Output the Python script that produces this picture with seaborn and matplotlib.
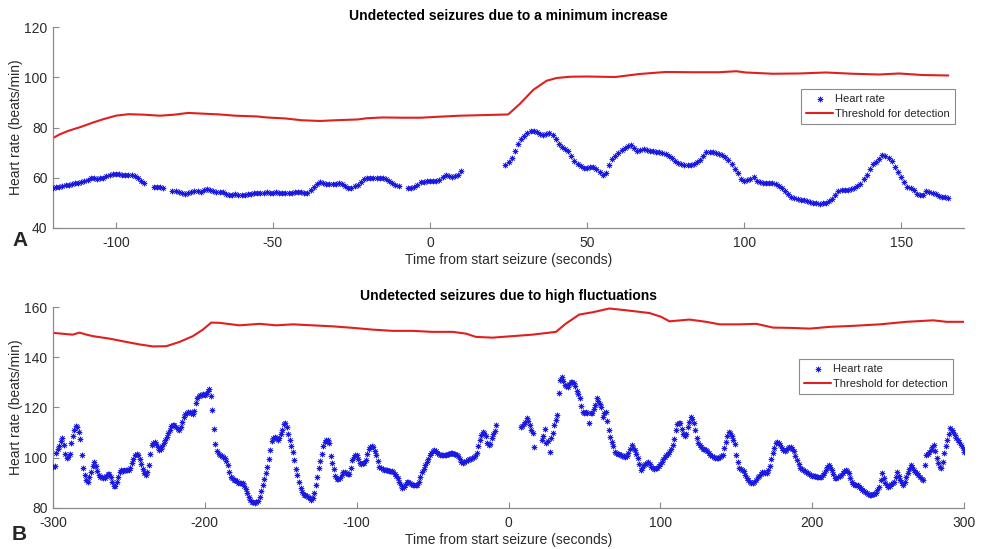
import numpy as np
import pandas as pd
import matplotlib
matplotlib.use("Agg")
import matplotlib.pyplot as plt
import seaborn as sns

# ---------------- Panel A: heart rate (beats/min), one value per second ----------------
# contiguous recording segments and the time (s) of their first sample
hr_a_starts = [-120, -88, -82, -7, 24]
hr_a_seg1 = [56.0, 56.2, 56.5, 56.9, 57.1, 57.3, 57.6, 57.9, 58.0, 58.2,
             58.6, 59.1, 59.8, 60.0, 59.7, 59.8, 60.1, 60.6, 61.0, 61.5,
             61.6, 61.4, 61.2, 61.0, 61.0, 60.9, 60.6, 59.8, 58.9, 57.9]
hr_a_seg2 = [56.4, 56.2, 56.2, 56.0]
hr_a_seg3 = [54.8, 54.6, 54.2, 53.8, 53.7, 53.9, 54.3, 54.8,
             54.6, 54.4, 55.0, 55.4, 55.0, 54.6, 54.3, 54.5, 54.2, 53.6,
             53.2, 53.1, 53.4, 53.2, 53.0, 53.2, 53.5, 53.7, 53.8, 53.9,
             54.0, 54.1, 54.2, 54.0, 53.9, 54.2, 54.0, 53.9, 54.0, 53.8,
             54.1, 54.2, 54.3, 54.2, 54.0, 53.8, 55.2, 56.5, 57.4, 58.3,
             58.0, 57.6, 57.4, 57.5, 57.6, 57.8, 57.6, 56.9, 56.1, 56.0,
             56.6, 57.3, 58.4, 59.4, 59.8, 60.0, 60.1, 59.9, 59.8, 59.8,
             59.5, 58.8, 57.8, 57.3, 56.8]
hr_a_seg4 = [55.8, 55.8, 56.3, 57.2, 58.2, 58.5, 58.6, 58.7,
             58.6, 58.8, 59.3, 60.4, 61.1, 60.5, 60.2, 60.5, 60.9, 62.6]
hr_a_seg5 = [65.2, 66.3, 67.8, 70.6, 73.3, 75.3,
             76.5, 77.9, 78.8, 78.5, 78.2, 77.5, 77.1, 77.6, 77.8, 77.2,
             75.5, 73.6, 72.4, 71.3, 70.6, 68.6, 66.5, 65.6, 64.8, 64.0,
             63.9, 64.2, 64.1, 63.6, 62.3, 61.0, 62.0, 65.2, 67.3, 68.7,
             69.8, 71.0, 71.9, 72.6, 73.2, 71.8, 70.8, 71.2, 71.4, 70.9,
             70.6, 70.5, 70.4, 70.2, 69.9, 69.3, 68.6, 68.0, 66.8, 65.7,
             65.3, 65.0, 64.9, 65.1, 65.6, 66.2, 67.1, 68.5, 70.2, 70.4,
             70.2, 70.0, 69.6, 69.1, 68.2, 66.9, 65.3, 63.6, 61.9, 59.5,
             58.9, 59.1, 59.6, 60.3, 58.9, 58.3, 58.1, 58.0, 57.9, 57.8,
             57.6, 56.8, 55.8, 54.6, 53.4, 52.5, 52.0, 51.5, 51.2, 51.0,
             50.8, 50.5, 50.1, 49.8, 49.7, 49.8, 50.1, 50.7, 51.6, 53.3,
             54.9, 55.2, 55.0, 55.2, 55.6, 56.1, 56.8, 57.7, 59.4, 61.2,
             63.4, 65.3, 66.2, 67.5, 69.0, 68.6, 67.8, 66.5, 64.4, 62.3,
             60.2, 58.3, 56.5, 56.0, 55.2, 53.5, 53.0, 53.3, 54.9, 54.5,
             54.0, 53.6, 52.9, 52.4, 52.2, 52.0]

# detection threshold for panel A
thr_a_time = [-120, -118, -115.3, -111, -107, -104, -100, -96, -91, -86, -81.5,
              -77, -72, -67, -62, -55, -52, -46, -41, -35, -30, -23, -20, -15,
              -9, -3, 3, 9.5, 16, 24.9, 28.6, 32.9, 37.1, 40.3, 44.5, 50, 59,
              66.7, 75, 84, 92, 97.5, 100.6, 109, 117.5, 126, 134.5, 143,
              149.3, 156.7, 165]
thr_a_value = [75.8, 77.2, 78.6, 80.3, 82.1, 83.3, 84.7, 85.3, 85.1, 84.7, 85.1,
               85.8, 85.5, 85.2, 84.7, 84.4, 84.0, 83.6, 82.9, 82.6, 82.9, 83.2,
               83.7, 84.0, 83.9, 83.9, 84.3, 84.7, 84.9, 85.2, 89.4, 95.0, 98.6,
               99.7, 100.2, 100.3, 100.1, 101.3, 102.1, 102.0, 102.0, 102.4,
               101.9, 101.4, 101.5, 101.9, 101.4, 101.1, 101.5, 100.9, 100.7]

# ---------------- Panel B: heart rate (beats/min), one value per second ----------------
hr_b_starts = [-300, 8, 22]
hr_b_seg1 = [96.3, 96.8, 102.0, 103.4, 104.5, 106.8, 107.9, 105.2, 101.5, 99.8,
             100.4, 101.5, 105.8, 108.5, 111.2, 112.6, 112.3, 110.3, 107.5, 101.0,
             96.0, 93.2, 91.2, 90.5, 92.5, 94.5, 96.8, 98.4, 96.8, 94.6,
             93.2, 92.2, 92.5, 91.9, 91.8, 92.8, 93.6, 93.5, 92.4, 90.3,
             88.6, 88.8, 90.3, 92.5, 94.4, 95.2, 94.9, 95.0, 95.3, 95.1,
             95.2, 96.0, 97.8, 99.6, 101.2, 101.6, 100.9, 99.4, 97.6, 95.6,
             94.0, 93.2, 94.2, 97.0, 101.5, 105.2, 106.0, 106.4, 105.6, 104.2,
             103.2, 103.6, 104.8, 105.8, 106.9, 108.4, 110.0, 111.2, 112.5, 113.1,
             113.0, 112.4, 111.6, 111.0, 112.2, 114.3, 116.2, 117.3, 118.0, 118.4,
             118.2, 117.8, 117.5, 118.8, 121.8, 123.6, 124.6, 125.1, 124.8, 125.2,
             125.0, 125.5, 126.5, 127.4, 124.5, 119.0, 111.5, 105.3, 102.8, 101.6,
             101.0, 100.6, 100.2, 99.8, 98.8, 97.2, 94.5, 92.3, 91.8, 91.3,
             91.0, 90.6, 90.1, 89.8, 89.9, 89.8, 88.8, 87.6, 86.0, 84.3,
             83.0, 82.5, 82.2, 82.1, 82.2, 82.6, 84.5, 86.7, 89.2, 91.4,
             93.8, 96.3, 99.5, 103.0, 106.6, 107.8, 108.4, 107.8, 107.2, 107.9,
             109.5, 111.2, 113.5, 114.0, 112.2, 109.3, 107.0, 104.7, 102.2, 99.1,
             95.5, 93.0, 90.5, 88.0, 86.2, 85.2, 85.0, 84.8, 84.5, 83.8,
             83.2, 84.0, 86.0, 89.2, 92.4, 95.8, 98.9, 101.5, 104.8, 106.3,
             107.0, 106.9, 106.0, 100.8, 98.0, 95.5, 92.7, 91.7, 91.6, 92.0,
             93.2, 94.5, 94.2, 93.8, 93.4, 93.5, 95.8, 99.2, 100.4, 100.9,
             101.0, 99.5, 97.8, 97.6, 97.8, 98.0, 99.2, 101.6, 103.4, 104.3,
             104.8, 104.4, 102.8, 101.0, 98.6, 96.4, 95.8, 95.5, 95.2, 95.1,
             95.0, 94.9, 94.7, 94.6, 94.3, 93.6, 92.6, 91.8, 90.5, 89.2,
             88.0, 88.2, 89.3, 90.3, 90.4, 89.9, 89.4, 89.2, 89.1, 89.2,
             89.2, 90.5, 92.5, 94.2, 95.7, 97.1, 98.4, 99.6, 100.9, 102.0,
             102.6, 103.1, 102.7, 102.0, 101.3, 101.0, 101.2, 101.1, 101.0, 101.2,
             101.4, 101.6, 101.7, 101.8, 101.6, 101.3, 101.1, 100.6, 99.5, 98.3,
             97.8, 98.2, 98.7, 99.1, 99.4, 99.6, 99.8, 100.1, 100.6, 102.0,
             104.5, 107.0, 109.2, 110.4, 109.8, 108.5, 106.0, 105.2, 105.4, 107.7,
             109.4, 110.8, 113.0]
hr_b_seg2 = [112.1, 112.5, 113.6, 114.4, 116.0, 114.5, 113.0, 111.2, 109.7, 104.4]
hr_b_seg3 = [107.1, 108.6, 111.3, 105.7, 106.5, 102.4, 107.7, 109.7,
             113.0, 115.2, 117.0, 125.9, 131.0, 132.0, 130.5, 129.0, 128.6, 128.3,
             129.4, 130.3, 130.2, 129.9, 128.4, 126.5, 125.2, 123.9, 120.5, 118.3,
             118.0, 118.1, 117.9, 113.7, 118.0, 117.9, 119.5, 121.0, 123.6, 122.5,
             121.2, 120.1, 116.4, 118.0, 118.3, 114.5, 111.0, 108.4, 106.4, 104.5,
             102.3, 101.7, 101.5, 101.3, 101.1, 100.8, 100.5, 100.2, 100.8, 101.8,
             103.5, 105.0, 104.0, 103.0, 101.3, 99.8, 97.5, 95.3, 96.0, 97.0,
             97.6, 98.0, 98.4, 97.5, 96.3, 95.8, 95.7, 95.8, 95.9, 96.8,
             97.6, 98.5, 99.5, 100.3, 100.9, 101.5, 102.2, 103.6, 105.1, 107.5,
             111.0, 113.4, 113.9, 114.0, 111.5, 109.5, 108.6, 109.6, 112.3, 114.4,
             116.2, 115.5, 113.8, 111.0, 107.8, 106.0, 104.9, 104.1, 103.6, 103.3,
             103.0, 102.8, 101.8, 101.0, 100.5, 100.1, 99.9, 99.8, 100.0, 100.2,
             100.5, 101.0, 103.8, 106.2, 108.5, 110.4, 109.7, 108.7, 107.0, 105.5,
             101.0, 98.5, 95.8, 95.4, 95.2, 94.6, 93.3, 92.0, 91.1, 90.5,
             90.0, 89.8, 90.3, 91.2, 92.2, 92.8, 93.5, 94.2, 94.5, 94.1,
             93.8, 95.0, 96.6, 99.5, 102.0, 104.0, 106.0, 106.3, 105.7, 105.1,
             104.0, 103.0, 102.5, 103.2, 104.0, 104.4, 104.2, 103.6, 102.8, 100.7,
             99.1, 97.6, 96.0, 95.5, 95.0, 94.7, 94.2, 93.8, 93.4, 93.1,
             92.9, 92.8, 92.6, 92.5, 92.5, 92.4, 92.5, 93.2, 94.0, 95.3,
             96.5, 97.1, 96.4, 95.2, 93.4, 92.0, 91.8, 92.2, 92.6, 93.1,
             94.0, 94.8, 95.1, 94.8, 93.8, 92.0, 90.3, 89.6, 89.3, 89.2,
             89.0, 88.3, 87.8, 87.3, 86.9, 86.5, 86.0, 85.6, 85.2, 85.2,
             85.4, 85.6, 85.8, 87.0, 88.5, 91.0, 93.8, 92.0, 90.0, 89.2,
             88.5, 88.9, 89.5, 90.0, 90.5, 92.5, 94.5, 92.8, 91.1, 90.0,
             89.2, 90.5, 92.2, 93.8, 95.5, 97.1, 96.5, 95.2, 94.5, 93.8,
             93.1, 92.3, 91.4, 91.0, 97.1, 101.1, 101.6, 102.4, 103.2, 104.2,
             105.0, 102.8, 100.0, 97.8, 96.5, 95.8, 98.5, 101.8, 104.5, 107.1,
             109.5, 111.7, 111.0, 110.4, 109.2, 108.0, 107.2, 106.2, 105.0, 103.8,
             102.4]

# detection threshold for panel B
thr_b_time = [-300, -291, -287, -282.5, -278, -273.7, -262.7, -251.8, -243, -234,
              -225.4, -216.7, -207.9, -201.3, -195.8, -190.4, -177.2, -164, -153,
              -142, -129, -115.8, -102.6, -89.5, -76.3, -63.2, -50, -36.8, -28,
              -21.5, -10.6, 2.6, 15.8, 31.2, 37.8, 46.6, 55.4, 66.4, 77.4, 92.8,
              100.5, 106, 119.2, 130.2, 139, 152.2, 163.2, 174.2, 185.2, 198.4,
              211.6, 227, 244.6, 262.1, 279.7, 288.5, 300]
thr_b_value = [149.7, 149.2, 149.0, 149.8, 149.0, 148.4, 147.4, 146.1, 145.1, 144.3,
               144.4, 146.1, 148.4, 151.0, 153.8, 153.7, 152.7, 153.3, 152.7,
               153.1, 152.7, 152.3, 151.7, 151.0, 150.5, 150.5, 150.1, 150.1, 149.4,
               148.1, 147.8, 148.4, 149.0, 150.1, 153.4, 157.0, 157.9, 159.4, 158.7,
               157.6, 156.1, 154.3, 155.0, 154.1, 153.1, 153.1, 153.3, 151.8, 151.7,
               151.4, 152.1, 152.5, 153.1, 154.1, 154.7, 154.1, 154.1]

HR_COLOR = "#1a1ae0"
THR_COLOR = "#e01f1f"
AXIS_GRAY = "#8a8a8a"
TEXT_GRAY = "#2b2b2b"


def hr_frame(starts, segments):
    """Stack contiguous one-second segments into a time / heart-rate table."""
    time = np.concatenate([s + np.arange(len(seg)) for s, seg in zip(starts, segments)])
    rate = np.concatenate([np.asarray(seg, dtype=float) for seg in segments])
    return pd.DataFrame({"time": time, "hr": rate})


hr_a = hr_frame(hr_a_starts, [hr_a_seg1, hr_a_seg2, hr_a_seg3, hr_a_seg4, hr_a_seg5])
hr_b = hr_frame(hr_b_starts, [hr_b_seg1, hr_b_seg2, hr_b_seg3])
thr_a = pd.DataFrame({"time": thr_a_time, "thr": thr_a_value})
thr_b = pd.DataFrame({"time": thr_b_time, "thr": thr_b_value})

sns.set_style("ticks")
plt.rcParams["font.family"] = ["Liberation Sans", "DejaVu Sans"]
plt.rcParams["axes.unicode_minus"] = False

fig = plt.figure(figsize=(9.82, 5.49), dpi=100)
ax_a = fig.add_axes([0.054, 0.5847, 0.9277, 0.3661])
ax_b = fig.add_axes([0.054, 0.0747, 0.9277, 0.3661])

asterisk = (8, 2, 0)


def draw_panel(ax, hr, thr, title, xlim, xticks, ylim, yticks, legend_anchor):
    sns.lineplot(data=thr, x="time", y="thr", ax=ax, color=THR_COLOR, linewidth=1.5,
                 estimator=None, sort=False, label="Threshold for detection", zorder=2)
    sns.scatterplot(data=hr, x="time", y="hr", ax=ax, marker=asterisk, s=13,
                    color=HR_COLOR, edgecolor=HR_COLOR, linewidth=0.55,
                    label="Heart rate", zorder=3)
    ax.set_xlim(*xlim)
    ax.set_ylim(*ylim)
    ax.set_xticks(xticks)
    ax.set_yticks(yticks)
    sns.despine(ax=ax)
    for side in ("left", "bottom"):
        ax.spines[side].set_color(AXIS_GRAY)
        ax.spines[side].set_linewidth(0.9)
    ax.tick_params(direction="in", length=4, width=0.8, color=AXIS_GRAY,
                   labelcolor=TEXT_GRAY, labelsize=10)
    ax.tick_params(axis="x", pad=6)
    ax.tick_params(axis="y", pad=4)
    ax.set_title(title, fontsize=10, fontweight="bold", color="black", pad=5)
    ax.set_xlabel("Time from start seizure (seconds)", fontsize=10, color=TEXT_GRAY,
                  labelpad=2)
    ax.set_ylabel("Heart rate (beats/min)", fontsize=10, color=TEXT_GRAY, labelpad=1)

    handles, labels = ax.get_legend_handles_labels()
    order = [labels.index("Heart rate"), labels.index("Threshold for detection")]
    leg = ax.legend([handles[i] for i in order], [labels[i] for i in order],
                    loc="upper right", bbox_to_anchor=legend_anchor, fontsize=8,
                    frameon=True, fancybox=False, framealpha=1, borderpad=0.45,
                    labelspacing=0.45, handlelength=2.4, handletextpad=0.2,
                    borderaxespad=0)
    leg.get_frame().set_edgecolor(AXIS_GRAY)
    leg.get_frame().set_linewidth(0.8)


draw_panel(ax_a, hr_a, thr_a, "Undetected seizures due to a minimum increase",
           (-120, 170), [-100, -50, 0, 50, 100, 150], (40, 120), [40, 60, 80, 100, 120],
           (0.990, 0.692))
draw_panel(ax_b, hr_b, thr_b, "Undetected seizures due to high fluctuations",
           (-300, 300), [-300, -200, -100, 0, 100, 200, 300], (80, 160),
           [80, 100, 120, 140, 160], (0.988, 0.741))

fig.text(12 / 982, 1 - 240 / 549, "A", fontsize=15, fontweight="bold", va="center")
fig.text(12 / 982, 1 - 535 / 549, "B", fontsize=15, fontweight="bold", va="center")

fig.savefig("out.png", dpi=100)
